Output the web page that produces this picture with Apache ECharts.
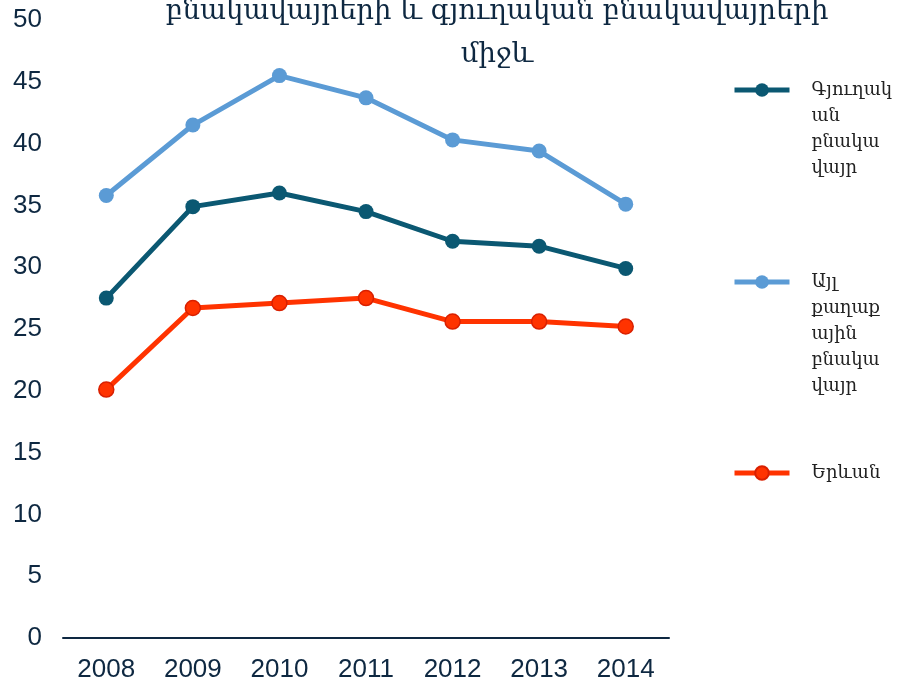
<!DOCTYPE html>
<html>
<head>
<meta charset="utf-8" />
<title></title>
<script src="https://cdn.jsdelivr.net/npm/echarts@6/dist/echarts.min.js"></script>
<style>
html, body { margin: 0; padding: 0; width: 100%; height: 100%; background: #fff; }
</style>
</head>
<body>
<div id="container" style="width: 898px; height: 683px"></div>
<script>
var years = ['2008', '2009', '2010', '2011', '2012', '2013', '2014'];
var rural = [27.5, 34.9, 36.0, 34.5, 32.1, 31.7, 29.9];
var otherUrban = [35.8, 41.5, 45.5, 43.7, 40.3, 39.4, 35.1];
var yerevan = [20.1, 26.7, 27.1, 27.5, 25.6, 25.6, 25.2];

var names = ['Գյուղական բնակավայր', 'Այլ քաղաքային բնակավայր', 'Երևան'];
// how the legend text wraps in the original
var legendLines = {
	'Գյուղական բնակավայր': ['Գյուղակ', 'ան', 'բնակա', 'վայր'],
	'Այլ քաղաքային բնակավայր': ['Այլ', 'քաղաք', 'ային', 'բնակա', 'վայր'],
	'Երևան': ['Երևան']
};
var colors = ['#0B5872', '#5B9BD5', '#FF3300'];
var navy = '#0E2841';

// legend text is centred on its icon, so blank lines in front
// bring the first line level with the icon
function legendAt(name, top) {
	return {
		data: [name],
		orient: 'vertical',
		left: 727,
		top: top,
		itemWidth: 55,
		itemHeight: 17,
		itemGap: 0,
		lineStyle: { width: 5 },
		formatter: function (n) {
			var lines = legendLines[n];
			var pad = [];
			for (var i = 0; i < lines.length - 1; i++) pad.push(' ');
			return pad.concat(lines).join('\n');
		},
		textStyle: {
			fontFamily: 'DejaVu Serif',
			fontSize: 18,
			lineHeight: 26,
			color: '#222',
			padding: [0, 0, 0, 17]
		}
	};
}

var chart = echarts.init(document.getElementById('container'));
var option = {
	animation: false,
	color: colors,
	graphic: [{
		type: 'text',
		x: 497,
		y: -10,
		style: {
			text: 'բնակավայրերի և գյուղական բնակավայրերի\nմիջև',
			textAlign: 'center',
			fontFamily: 'DejaVu Serif',
			fontSize: 27.5,
			lineHeight: 43,
			fill: navy
		}
	}],
	legend: [
		legendAt(names[0], -6),
		legendAt(names[1], 160),
		legendAt(names[2], 455)
	],
	grid: { left: 63, right: 229, top: 20, bottom: 45, containLabel: false },
	xAxis: {
		type: 'category',
		data: years,
		boundaryGap: true,
		axisLine: { lineStyle: { color: navy, width: 2 } },
		axisTick: { show: false },
		axisLabel: { color: navy, fontSize: 26, fontFamily: 'Liberation Sans', margin: 19 }
	},
	yAxis: {
		type: 'value',
		min: 0,
		max: 50,
		interval: 5,
		splitLine: { show: false },
		axisLine: { show: false },
		axisTick: { show: false },
		axisLabel: { color: navy, fontSize: 26, fontFamily: 'Liberation Sans', margin: 21 }
	},
	series: [
		{
			name: names[0], type: 'line', data: rural,
			symbol: 'circle', symbolSize: 15,
			lineStyle: { width: 5, color: colors[0] },
			itemStyle: { color: colors[0] }
		},
		{
			name: names[1], type: 'line', data: otherUrban,
			symbol: 'circle', symbolSize: 15,
			lineStyle: { width: 5, color: colors[1] },
			itemStyle: { color: colors[1] }
		},
		{
			name: names[2], type: 'line', data: yerevan,
			symbol: 'circle', symbolSize: 15,
			lineStyle: { width: 5, color: colors[2] },
			itemStyle: { color: colors[2], borderColor: '#D92000', borderWidth: 1.5 }
		}
	]
};
chart.setOption(option);
</script>
</body>
</html>
